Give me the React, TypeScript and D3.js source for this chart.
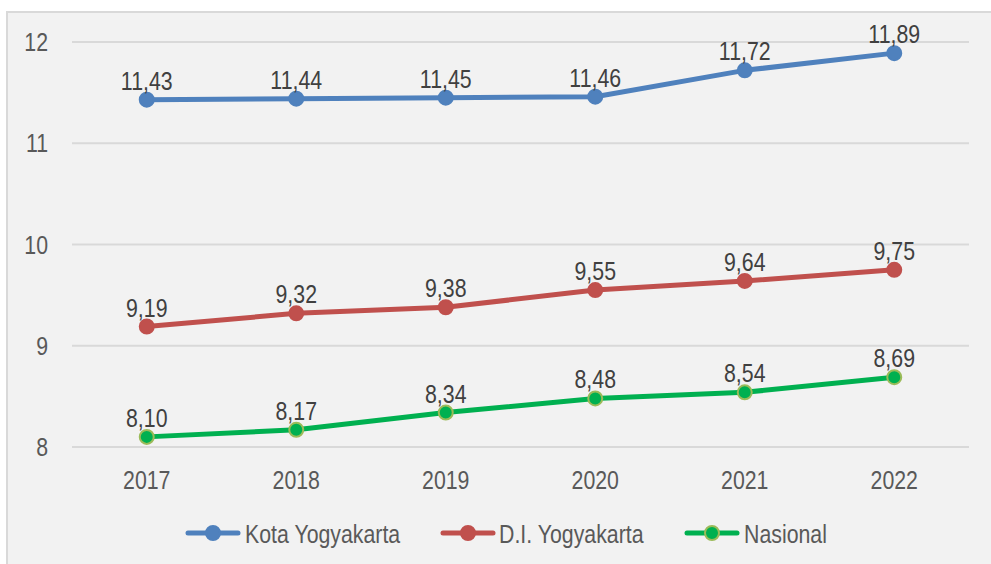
import React from 'react';
import * as d3 from 'd3';

const years = ['2017', '2018', '2019', '2020', '2021', '2022'];
const kotaYogyakarta = [11.43, 11.44, 11.45, 11.46, 11.72, 11.89];
const diYogyakarta = [9.19, 9.32, 9.38, 9.55, 9.64, 9.75];
const nasional = [8.1, 8.17, 8.34, 8.48, 8.54, 8.69];
const yTicks = [8, 9, 10, 11, 12];

const series = [
  { name: 'Kota Yogyakarta', values: kotaYogyakarta, color: '#4f81bd', marker: '#4f81bd' },
  { name: 'D.I. Yogyakarta', values: diYogyakarta, color: '#c0504d', marker: '#c0504d' },
  { name: 'Nasional', values: nasional, color: '#00b050', marker: '#9bbb59' },
];

// narrow look: Arial-metric font squeezed horizontally
const FONT = "'Liberation Sans', Arial, sans-serif";

function Label({ x, y, size, anchor = 'start', fill = '#595959', children }: any) {
  return (
    <text
      transform={`translate(${x},${y}) scale(0.82,1)`}
      textAnchor={anchor}
      fontFamily={FONT}
      fontSize={size}
      fill={fill}
    >
      {children}
    </text>
  );
}

export default function App() {
  const width = 991;
  const height = 564;
  const plot = { left: 72, right: 969, top: 42, bottom: 447 };

  const x = d3.scalePoint<string>().domain(years).range([plot.left, plot.right]).padding(0.5);
  const y = d3.scaleLinear().domain([8, 12]).range([plot.bottom, plot.top]);
  const line = d3.line<number>().x((_, i) => x(years[i]) as number).y(d => y(d));
  const fmt = (v: number) => v.toFixed(2).replace('.', ',');

  const legendItems = [
    { lx: 188, tx: 245 },
    { lx: 443, tx: 499 },
    { lx: 687, tx: 744 },
  ];

  return (
    <svg width={width} height={height} style={{ position: 'absolute', left: 0, top: 0, background: '#fff' }}>
      <rect x={7} y={12} width={1000} height={600} fill="#f2f2f2" stroke="#d9d9d9" strokeWidth={2} />

      {yTicks.map(t => (
        <g key={t}>
          <line x1={plot.left} x2={plot.right} y1={y(t)} y2={y(t)} stroke="#d9d9d9" strokeWidth={2} />
          <Label x={48} y={y(t) + 9} size={26} anchor="end">{t}</Label>
        </g>
      ))}

      {years.map(yr => (
        <Label key={yr} x={x(yr)} y={489} size={26} anchor="middle">{yr}</Label>
      ))}

      {series.map(s => (
        <g key={s.name}>
          <path d={line(s.values) || ''} fill="none" stroke={s.color} strokeWidth={5} strokeLinejoin="round" />
          {s.values.map((v, i) => (
            <g key={i}>
              <circle cx={x(years[i])} cy={y(v)} r={7} fill={s.color} stroke={s.marker} strokeWidth={2} />
              <Label x={x(years[i])} y={y(v) - 10} size={26} anchor="middle" fill="#404040">{fmt(v)}</Label>
            </g>
          ))}
        </g>
      ))}

      {series.map((s, i) => {
        const it = legendItems[i];
        return (
          <g key={s.name}>
            <line x1={it.lx} x2={it.lx + 50} y1={533} y2={533} stroke={s.color} strokeWidth={5} strokeLinecap="round" />
            <circle cx={it.lx + 25} cy={533} r={7} fill={s.color} stroke={s.marker} strokeWidth={2} />
            <Label x={it.tx} y={543} size={26}>{s.name}</Label>
          </g>
        );
      })}
    </svg>
  );
}
